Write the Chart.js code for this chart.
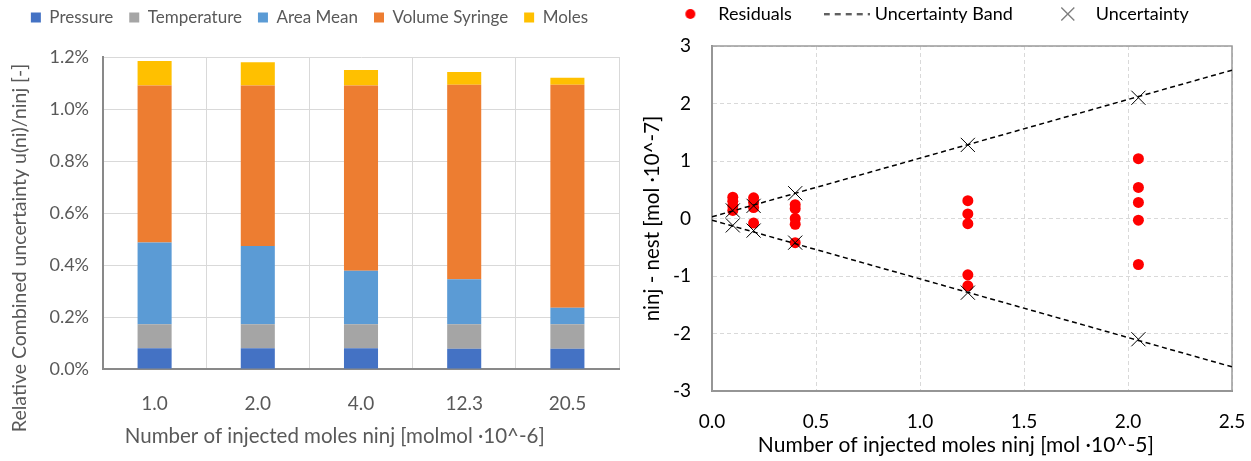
<!DOCTYPE html>
<html>
<head>
<meta charset="utf-8">
<script src="https://cdn.jsdelivr.net/npm/chart.js@4.4.1/dist/chart.umd.min.js"></script>
<style>
  html,body{margin:0;padding:0;background:#fff;overflow:hidden;}
  #left{position:absolute;left:0;top:0;width:628px;height:461px;}
  #right{position:absolute;left:628px;top:0;width:623px;height:461px;}
</style>
</head>
<body>
<div id="left"><canvas id="barChart"></canvas></div>
<div id="right"><canvas id="residChart"></canvas></div>
<script>
// ---------- data: left, stacked contributions in % ----------
const moleLabels = ['1.0', '2.0', '4.0', '12.3', '20.5'];
const pressure    = [0.080, 0.080, 0.080, 0.078, 0.078];
const temperature = [0.092, 0.092, 0.092, 0.094, 0.094];
const areaMean    = [0.315, 0.301, 0.206, 0.173, 0.064];
const volSyringe  = [0.603, 0.617, 0.712, 0.748, 0.857];
const moles       = [0.095, 0.090, 0.060, 0.049, 0.027];

// ---------- data: right, residuals [mol 10^-7] vs ninj [mol 10^-5] ----------
const injLevels = [0.1, 0.2, 0.4, 1.23, 2.05];
const residuals = [
  [0.37, 0.30, 0.22, 0.14],
  [0.36, 0.28, 0.19, -0.08],
  [0.24, 0.17, 0.00, -0.10, -0.42],
  [0.31, 0.08, -0.09, -0.98, -1.17],
  [1.04, 0.54, 0.28, -0.03, -0.80]
];
const uncUpper = [0.14, 0.22, 0.44, 1.28, 2.10];
const uncLower = [-0.12, -0.21, -0.42, -1.29, -2.10];
const bandX = [0, 2.5];
const bandUpper = [0.03, 2.58];
const bandLower = [-0.03, -2.58];

const FONT = 'Lato, "Open Sans", sans-serif';
const GREY = '#595959';
const pad = n => ' '.repeat(n); // trailing room so a title sits off-centre like the original

// legend sits higher with more room below it than chart.js gives by default
function legendGap(extra){
  return {
    id: 'legendGap',
    beforeLayout(chart){
      const lg = chart.legend;
      if (!lg || lg._gapPatched) return;
      const fit = lg.fit;
      lg.fit = function(){ fit.call(this); this.height += extra; };
      lg._gapPatched = true;
    }
  };
}

// ---------- left chart ----------
function barSet(label, data, color){
  return {label, data, backgroundColor: color, borderWidth: 0, barPercentage: 0.33, categoryPercentage: 1};
}
new Chart(document.getElementById('barChart'), {
  type: 'bar',
  data: {
    labels: moleLabels,
    datasets: [
      barSet('Pressure', pressure, '#4472C4'),
      barSet('Temperature', temperature, '#A5A5A5'),
      barSet('Area Mean', areaMean, '#5B9BD5'),
      barSet('Volume Syringe', volSyringe, '#ED7D31'),
      barSet('Moles', moles, '#FFC000')
    ]
  },
  plugins: [legendGap(21)],
  options: {
    responsive: true, maintainAspectRatio: false, animation: false,
    layout: {autoPadding: false, padding: {left: 0, right: 9, top: -7, bottom: 0}},
    plugins: {
      tooltip: {enabled: false},
      legend: {
        position: 'top',
        labels: {boxWidth: 10, boxHeight: 10, padding: 16, color: GREY, font: {family: FONT, size: 17}}
      }
    },
    scales: {
      x: {
        stacked: true,
        grid: {color: '#D9D9D9', drawTicks: false},
        border: {color: '#898989', width: 2},
        ticks: {color: GREY, padding: 23, font: {family: FONT, size: 19}},
        title: {display: true, text: 'Number of injected moles ninj [molmol ·10^-6]' + pad(10), color: GREY,
                font: {family: FONT, size: 20.5}, padding: {top: 0, bottom: 12}},
        afterFit: s => { s.height = 92; }
      },
      y: {
        stacked: true, min: 0, max: 1.2,
        grid: {color: '#D9D9D9', drawTicks: false},
        border: {color: '#898989', width: 2},
        ticks: {stepSize: 0.2, color: GREY, padding: 14, font: {family: FONT, size: 18},
                callback: v => v.toFixed(1) + '%'},
        title: {display: true, text: 'Relative Combined uncertainty u(ni)/ninj [-]' + pad(14), color: GREY,
                font: {family: FONT, size: 19.5}, padding: {top: 8, bottom: 0}},
        afterFit: s => { s.width = 103; }
      }
    }
  }
});

// ---------- right chart ----------
function icon(w, h, draw){
  const c = document.createElement('canvas'); c.width = w; c.height = h;
  draw(c.getContext('2d')); return c;
}
const dotIcon = icon(12, 12, g => { g.fillStyle = '#FF0000'; g.beginPath(); g.arc(6, 6, 5, 0, Math.PI * 2); g.fill(); });
const dashIcon = icon(46, 3, g => { g.strokeStyle = '#000'; g.lineWidth = 1.5; g.setLineDash([6, 5]); g.beginPath(); g.moveTo(0, 1.5); g.lineTo(46, 1.5); g.stroke(); });
const crossIcon = icon(15, 15, g => { g.strokeStyle = '#000'; g.lineWidth = 1; g.beginPath(); g.moveTo(1, 1); g.lineTo(14, 14); g.moveTo(14, 1); g.lineTo(1, 14); g.stroke(); });
const legendIcons = {0: dotIcon, 1: dashIcon, 3: crossIcon};

const residPoints = [];
injLevels.forEach((x, i) => residuals[i].forEach(y => residPoints.push({x, y})));
const pts = (xs, ys) => xs.map((x, i) => ({x, y: ys[i]}));

const boxPlugin = {
  id: 'box',
  beforeDatasetsDraw(chart){
    const {ctx, chartArea: a} = chart;
    ctx.save(); ctx.strokeStyle = '#9A9A9A'; ctx.lineWidth = 1.5;
    ctx.strokeRect(a.left, a.top, a.right - a.left, a.bottom - a.top);
    ctx.restore();
  }
};

const bandStyle = {type: 'line', borderColor: '#000', borderWidth: 1.5, borderDash: [5, 3.5], pointRadius: 0, fill: false, order: 1};
const crossStyle = {type: 'scatter', pointStyle: 'crossRot', pointRadius: 10, borderColor: '#000', borderWidth: 1, backgroundColor: '#000', order: 0};

new Chart(document.getElementById('residChart'), {
  type: 'scatter',
  data: {
    datasets: [
      {label: 'Residuals', data: residPoints, pointStyle: 'circle', pointRadius: 5.5, backgroundColor: '#FF0000', borderWidth: 0, order: 2},
      Object.assign({label: 'Uncertainty Band', data: pts(bandX, bandUpper)}, bandStyle),
      Object.assign({label: 'band lower', data: pts(bandX, bandLower)}, bandStyle),
      Object.assign({label: 'Uncertainty', data: pts(injLevels, uncUpper)}, crossStyle),
      Object.assign({label: 'unc lower', data: pts(injLevels, uncLower)}, crossStyle)
    ]
  },
  plugins: [boxPlugin, legendGap(13)],
  options: {
    responsive: true, maintainAspectRatio: false, animation: false,
    layout: {autoPadding: false, padding: {left: 0, right: 19, top: -31, bottom: 0}},
    plugins: {
      tooltip: {enabled: false},
      legend: {
        position: 'top',
        labels: {
          usePointStyle: true, pointStyleWidth: 38, padding: 36, color: '#000',
          font: {family: FONT, size: 18},
          generateLabels: chart => Chart.defaults.plugins.legend.labels.generateLabels(chart)
            .filter(it => legendIcons[it.datasetIndex])
            .sort((a, b) => a.datasetIndex - b.datasetIndex)
            .map(it => Object.assign(it, {pointStyle: legendIcons[it.datasetIndex]}))
        }
      }
    },
    scales: {
      x: {
        type: 'linear', min: 0, max: 2.5,
        grid: {color: '#D9D9D9', drawTicks: true, tickLength: 16, tickColor: 'rgba(0,0,0,0)'},
        border: {color: '#898989', width: 2, dash: [4, 3]},
        ticks: {stepSize: 0.5, color: '#000', padding: 3, font: {family: FONT, size: 19}, callback: v => v.toFixed(1)},
        title: {display: true, text: 'Number of injected moles ninj [mol ·10^-5]' + pad(6), color: '#000',
                font: {family: FONT, size: 21}, padding: {top: 0, bottom: 3}},
        afterFit: s => { s.height = 70; }
      },
      y: {
        min: -3, max: 3,
        grid: {color: '#D9D9D9', drawTicks: false},
        border: {color: '#898989', width: 2, dash: [4, 3]},
        ticks: {stepSize: 1, color: '#000', padding: 21, font: {family: FONT, size: 19}},
        title: {display: true, text: 'ninj - nest [mol ·10^-7]', color: '#000',
                font: {family: FONT, size: 20.5}, padding: {top: 12, bottom: 0}},
        afterFit: s => { s.width = 84; }
      }
    }
  }
});
</script>
</body>
</html>
